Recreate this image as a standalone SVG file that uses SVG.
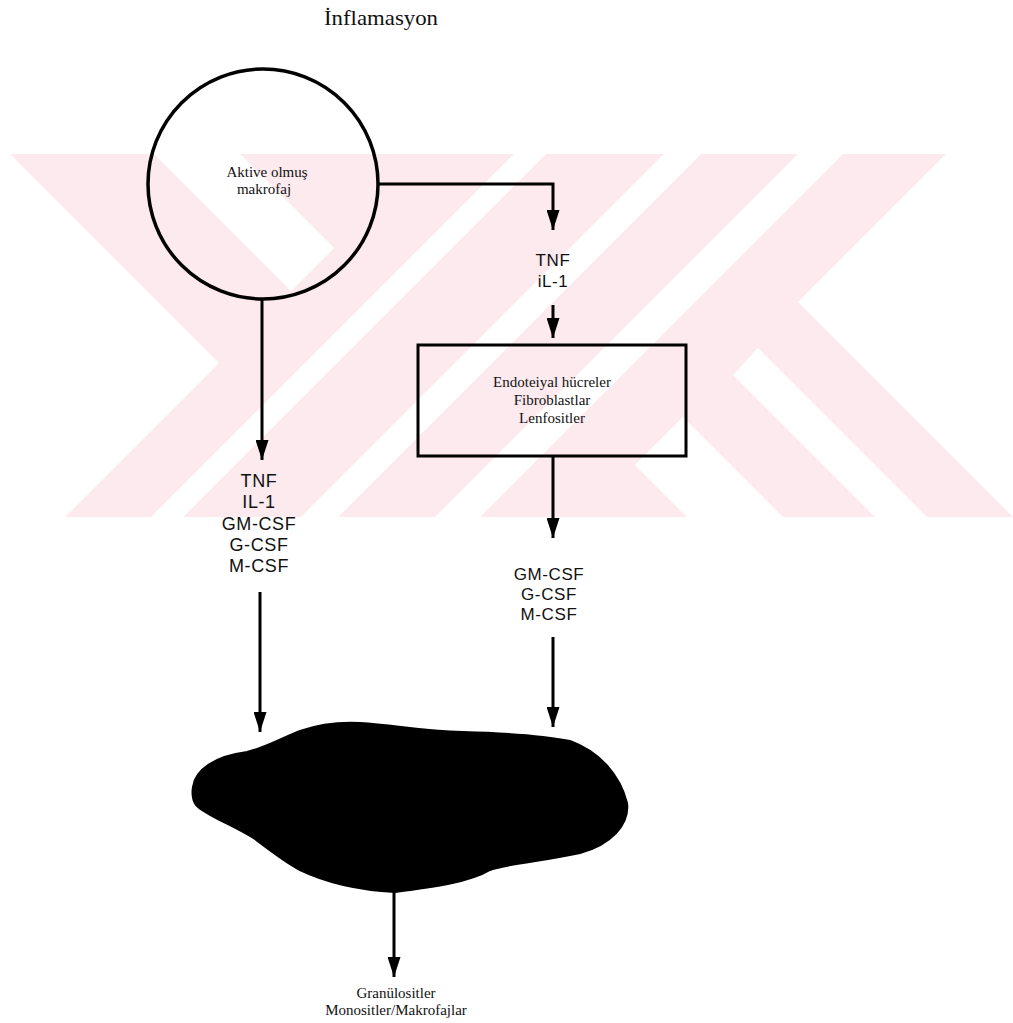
<svg xmlns="http://www.w3.org/2000/svg" width="1013" height="1023" viewBox="0 0 1013 1023">
<style>
.wm{fill:#fdeaee;stroke:none}
.wh{fill:#fff;stroke:none}
.ln{fill:none;stroke:#000;stroke-width:3}
.serif{font-family:"Liberation Serif","Times New Roman",serif;fill:#111;text-anchor:middle}
.sans{font-family:"Liberation Sans",Arial,sans-serif;fill:#111;text-anchor:middle;letter-spacing:0.6px}
</style>
<defs>
<marker id="ah" viewBox="0 0 20 13" refX="20" refY="6.5" markerWidth="20" markerHeight="13" markerUnits="userSpaceOnUse" orient="auto">
<path d="M0,0 L20,6.5 L0,13 Z" fill="#000"/>
</marker>
<clipPath id="band"><rect x="0" y="154" width="1013" height="363"/></clipPath>
</defs>
<rect width="1013" height="1023" fill="#fff"/>
<g id="watermark" clip-path="url(#band)">
<rect class="wm" x="0" y="154" width="1013" height="363"/>
<polygon class="wh" points="0,154 10,154 219,363 65,517 0,517"/>
<polygon class="wh" points="154,154 240,154 334,248 291,291"/>
<polygon class="wh" points="514,154 546,154 183,517 151,517"/>
<polygon class="wh" points="664,154 701,154 338,517 301,517"/>
<polygon class="wh" points="798,154 843,154 480,517 435,517"/>
<polygon class="wh" points="635,465 683,417 783,517 687,517"/>
<polygon class="wh" points="733,375 758,348 927,517 875,517"/>
<polygon class="wh" points="946,154 1013,154 1013,517 798,302"/>
</g>
<text class="serif" x="381" y="25" font-size="21" textLength="114" lengthAdjust="spacingAndGlyphs">İnflamasyon</text>
<g id="macrophage">
<circle cx="263" cy="184" r="115" fill="none" stroke="#000" stroke-width="3.5"/>
<text class="serif" x="267" y="177" font-size="15">Aktive olmuş</text>
<text class="serif" x="264" y="194" font-size="15">makrofaj</text>
</g>
<g id="tnf-il1-right">
<text class="sans" x="553" y="266" font-size="17">TNF</text>
<text class="sans" x="553" y="287" font-size="17">iL-1</text>
</g>
<g id="cells-box">
<rect x="418" y="345" width="268" height="111" fill="none" stroke="#000" stroke-width="3"/>
<text class="serif" x="552" y="387" font-size="15">Endoteiyal hücreler</text>
<text class="serif" x="552" y="405" font-size="15">Fibroblastlar</text>
<text class="serif" x="552" y="423" font-size="15">Lenfositler</text>
</g>
<g id="left-cytokines">
<text class="sans" x="259" y="487" font-size="18">TNF</text>
<text class="sans" x="259" y="508" font-size="18">IL-1</text>
<text class="sans" x="259" y="530" font-size="18">GM-CSF</text>
<text class="sans" x="259" y="551" font-size="18">G-CSF</text>
<text class="sans" x="259" y="572" font-size="18">M-CSF</text>
</g>
<g id="right-cytokines">
<text class="sans" x="549" y="580" font-size="17">GM-CSF</text>
<text class="sans" x="549" y="600" font-size="17">G-CSF</text>
<text class="sans" x="549" y="620" font-size="17">M-CSF</text>
</g>
<g id="bone-marrow">
<path d="M193,787 C195,770 215,756 247,752 C262,749 280,739 300,731 C320,724 340,722 360,723 C395,725 420,731 463,732 C500,733 540,735 570,741 C600,752 620,775 627,803 C630,825 610,845 580,853 C545,861 510,863 490,870 C470,882 435,887 395,892 C360,890 325,882 300,870 C285,862 272,852 255,839 C235,826 205,815 196,805 C192,799 192,793 193,787 Z" fill="#000" stroke="#000" stroke-width="2"/>
</g>
<g id="output">
<text class="serif" x="396" y="998" font-size="15">Granülositler</text>
<text class="serif" x="396" y="1015" font-size="15">Monositler/Makrofajlar</text>
</g>
<g id="connectors">
<path class="ln" d="M378,184 H553 V230" marker-end="url(#ah)"/>
<path class="ln" d="M553,305 V338" marker-end="url(#ah)"/>
<path class="ln" d="M553,456 V538" marker-end="url(#ah)"/>
<path class="ln" d="M553,637 V727" marker-end="url(#ah)"/>
<path class="ln" d="M262,299 V460" marker-end="url(#ah)"/>
<path class="ln" d="M260,592 V732" marker-end="url(#ah)"/>
<path class="ln" d="M394,891 V977" marker-end="url(#ah)"/>
</g>
</svg>
